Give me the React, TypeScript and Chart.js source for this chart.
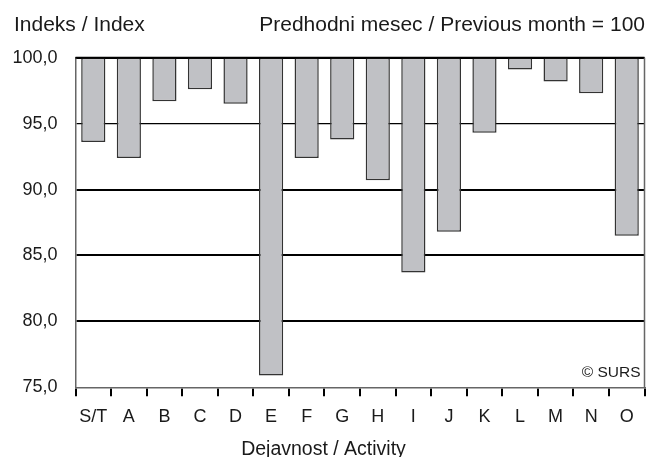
import React, { useEffect, useRef } from "react";
import { Chart, registerables } from "chart.js";

Chart.register(...registerables);

const categories = ["S/T", "A", "B", "C", "D", "E", "F", "G", "H", "I", "J", "K", "L", "M", "N", "O"];
const indexValues = [93.6, 92.4, 96.7, 97.6, 96.5, 75.9, 92.4, 93.8, 90.7, 83.7, 86.8, 94.3, 99.1, 98.2, 97.3, 86.5];
const baseValue = 100;
const yTicks = [75, 80, 85, 90, 95, 100];

const leftTitle = "Indeks / Index";
const rightTitle = "Predhodni mesec / Previous month = 100";
const xTitle = "Dejavnost / Activity";
const sourceNote = "© SURS";

const FONT = "'Liberation Sans', Arial, sans-serif";

export default function App() {
  const ref = useRef<HTMLCanvasElement | null>(null);

  useEffect(() => {
    if (!ref.current) return;

    const overlay = {
      id: "overlay",
      afterDatasetsDraw(chart: any) {
        const { ctx, chartArea } = chart;
        const y = chart.scales.y;
        ctx.save();
        ctx.strokeStyle = "#000";
        ctx.lineWidth = 2;
        ctx.beginPath();
        ctx.moveTo(chartArea.left, y.getPixelForValue(baseValue));
        ctx.lineTo(chartArea.right, y.getPixelForValue(baseValue));
        ctx.stroke();
        ctx.strokeStyle = "#666";
        ctx.lineWidth = 1.5;
        ctx.beginPath();
        ctx.moveTo(chartArea.right, chartArea.top);
        ctx.lineTo(chartArea.right, chartArea.bottom);
        ctx.stroke();
        ctx.restore();
      },
      afterDraw(chart: any) {
        const { ctx, chartArea } = chart;
        ctx.save();
        ctx.fillStyle = "#1a1a1a";
        ctx.textBaseline = "alphabetic";
        ctx.font = `21px ${FONT}`;
        ctx.textAlign = "left";
        ctx.fillText(leftTitle, 14, 31);
        ctx.textAlign = "right";
        ctx.fillText(rightTitle, 645, 31);
        ctx.font = `19.5px ${FONT}`;
        ctx.textAlign = "center";
        ctx.fillText(xTitle, 323.5, 455);
        ctx.font = `15.5px ${FONT}`;
        ctx.textAlign = "right";
        ctx.fillText(sourceNote, chartArea.right - 4, chartArea.bottom - 10.5);
        ctx.restore();
      },
    };

    const chart = new Chart(ref.current, {
      type: "bar",
      data: {
        labels: categories,
        datasets: [
          {
            data: indexValues.map((v) => [v, baseValue]) as any,
            backgroundColor: "#c0c1c5",
            borderColor: "#333333",
            borderWidth: 1.5,
            borderSkipped: false,
            categoryPercentage: 1,
            barPercentage: 0.68,
          },
        ],
      },
      options: {
        animation: false,
        responsive: false,
        devicePixelRatio: 1,
        layout: { padding: { left: 0, top: 57.7, right: 3.5, bottom: 0 } },
        plugins: {
          legend: { display: false },
          tooltip: { enabled: false },
          title: { display: false },
        },
        scales: {
          x: {
            offset: true,
            afterFit: (s: any) => {
              s.height = 69.7;
            },
            grid: {
              offset: true,
              drawOnChartArea: false,
              drawTicks: true,
              tickLength: 9,
              color: "#000",
              lineWidth: 2,
            },
            border: { display: true, color: "#666", width: 1.5 },
            ticks: {
              color: "#1a1a1a",
              font: { family: FONT, size: 18 },
              padding: 10,
              maxRotation: 0,
              autoSkip: false,
            },
          },
          y: {
            min: 75,
            max: 100,
            afterFit: (s: any) => {
              s.width = 75.5;
            },
            afterBuildTicks: (s: any) => {
              s.ticks = yTicks.map((v) => ({ value: v }));
            },
            grid: {
              drawTicks: false,
              color: (c: any) => (c.tick && c.tick.value === 75 ? "rgba(0,0,0,0)" : "#000"),
              lineWidth: (c: any) => {
                const v = c.tick ? c.tick.value : 0;
                if (v === 95) return 1.2;
                if (v === 75) return 0;
                return 2;
              },
            },
            border: { display: true, color: "#666", width: 1.5 },
            ticks: {
              color: "#1a1a1a",
              font: { family: FONT, size: 18 },
              padding: 18,
              callback: (v: any) => Number(v).toFixed(1).replace(".", ","),
            },
          },
        },
      },
      plugins: [overlay],
    });

    return () => chart.destroy();
  }, []);

  return (
    <div style={{ position: "fixed", left: 0, top: 0, width: 648, height: 457, background: "#fff" }}>
      <canvas ref={ref} width={648} height={457} style={{ display: "block" }} />
    </div>
  );
}
